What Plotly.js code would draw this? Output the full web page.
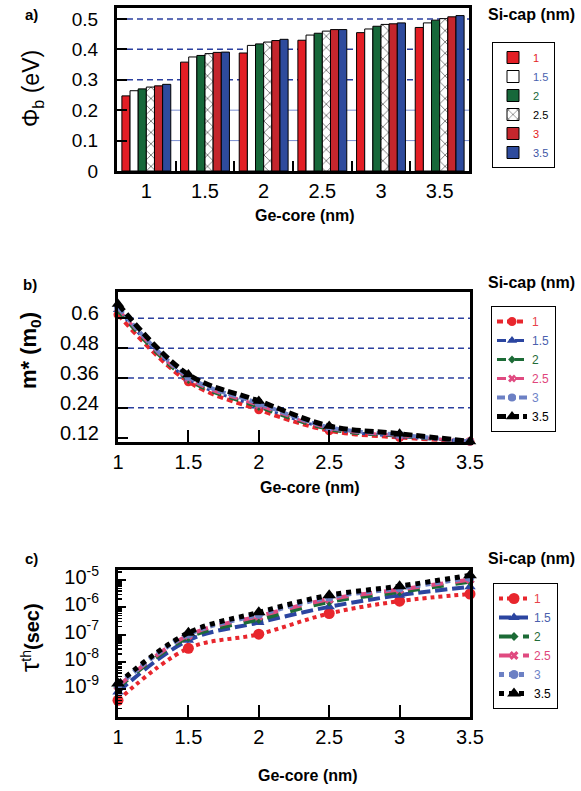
<!DOCTYPE html>
<html><head><meta charset="utf-8">
<script src="https://cdn.plot.ly/plotly-3.0.1.min.js"></script>
<style>html,body{margin:0;padding:0;background:#fff;} #chart{width:581px;height:791px;}</style>
</head><body><div id="chart"></div>
<script>
// ---------- data ----------
const geCore = [1, 1.5, 2, 2.5, 3, 3.5];
const geCoreLabels = ['1', '1.5', '2', '2.5', '3', '3.5'];
const siCap = ['1', '1.5', '2', '2.5', '3', '3.5'];

// a) barrier height Phi_b (eV) per Si-cap
const phiB_1  = [0.247, 0.358, 0.388, 0.430, 0.455, 0.472];
const phiB_15 = [0.264, 0.375, 0.413, 0.447, 0.467, 0.487];
const phiB_2  = [0.270, 0.380, 0.418, 0.453, 0.476, 0.496];
const phiB_25 = [0.276, 0.386, 0.424, 0.460, 0.482, 0.501];
const phiB_3  = [0.280, 0.390, 0.429, 0.465, 0.484, 0.507];
const phiB_35 = [0.285, 0.391, 0.433, 0.465, 0.487, 0.511];

// b) effective mass m* (m0) per Si-cap
const mEff_1  = [0.615, 0.345, 0.232, 0.148, 0.121, 0.105];
const mEff_15 = [0.635, 0.356, 0.246, 0.156, 0.125, 0.105];
const mEff_2  = [0.630, 0.352, 0.243, 0.153, 0.126, 0.105];
const mEff_25 = [0.640, 0.358, 0.250, 0.158, 0.128, 0.105];
const mEff_3  = [0.645, 0.365, 0.258, 0.162, 0.132, 0.105];
const mEff_35 = [0.658, 0.374, 0.268, 0.167, 0.136, 0.105];

// c) thermionic time tau_th (s) per Si-cap
const tau_1  = [4.0e-10, 3.2e-8, 1.05e-7, 6.0e-7, 1.7e-6, 3.1e-6];
const tau_15 = [8.0e-10, 6.3e-8, 2.8e-7, 1.05e-6, 2.8e-6, 5.7e-6];
const tau_2  = [1.15e-9, 8.0e-8, 3.6e-7, 1.6e-6, 3.7e-6, 8.7e-6];
const tau_25 = [1.3e-9, 9.5e-8, 4.8e-7, 2.0e-6, 4.5e-6, 1.05e-5];
const tau_3  = [1.45e-9, 1.05e-7, 5.6e-7, 2.4e-6, 5.2e-6, 1.25e-5];
const tau_35 = [1.66e-9, 1.18e-7, 6.6e-7, 2.8e-6, 6.0e-6, 1.5e-5];

const gridA_dashed = [0.3, 0.4, 0.5];
const gridA_solid = [0.1, 0.2];
const gridB = [0.24, 0.36, 0.48, 0.6];
const ticksA = [0, 0.1, 0.2, 0.3, 0.4, 0.5];
const ticksB = [0.12, 0.24, 0.36, 0.48, 0.6];
const ticksC = [1e-9, 1e-8, 1e-7, 1e-6, 1e-5];
const ticksCText = ['10<sup>-9</sup>', '10<sup>-8</sup>', '10<sup>-7</sup>', '10<sup>-6</sup>', '10<sup>-5</sup>'];

// ---------- styling ----------
const W = 581, H = 791;
const FONT = 'Liberation Sans, Arial, Helvetica, sans-serif';
const px = v => v / W;
const py = v => 1 - v / H;

const phiSeries = [phiB_1, phiB_15, phiB_2, phiB_25, phiB_3, phiB_35];
const mSeries = [mEff_1, mEff_15, mEff_2, mEff_25, mEff_3, mEff_35];
const tauSeries = [tau_1, tau_15, tau_2, tau_25, tau_3, tau_35];

const barFill = ['#e31e25', '#ffffff', '#17683a', '#ffffff', '#c4262d', '#2e4b9d'];
const labelColA = ['#e31e25', '#4a62ae', '#17683a', '#000000', '#e31e25', '#3d55a5'];
const lineCol = ['#e8262d', '#2b45a0', '#1c6b36', '#e04a80', '#6c80c4', '#000000'];
const labelColB = ['#e8424a', '#4b5fae', '#1f6b38', '#e0457b', '#6f84c8', '#000000'];
const symbols = ['circle', 'triangle-up', 'diamond', 'x', 'circle', 'triangle-up'];
const msizeB = [9, 9, 6, 7, 8, 11];
const dashB = ['6px,4px', 'dashdot', 'dash', 'dash', '8px,3px', '9px,4px'];
const widthB = [4, 3, 3, 3, 4, 5];
const dashC = ['dot', '12px,5px', 'dash', 'dash', 'dot', 'dot'];
const widthC = [4, 4, 4, 4, 5, 5];
const msizeC = [11, 10, 7, 8, 9, 12];

const traces = [];
siCap.forEach((s, i) => {
  const m = {color: barFill[i], line: {color: '#000', width: 1}};
  if (i === 3) m.pattern = {shape: 'x', fgcolor: '#000', bgcolor: '#fff', size: 8, solidity: 0.12};
  traces.push({
    type: 'bar', x: geCoreLabels, y: phiSeries[i], xaxis: 'x', yaxis: 'y',
    name: '<span style="color:' + labelColA[i] + '">' + s + '</span>',
    marker: m, legend: 'legend', hoverinfo: 'skip'
  });
});
siCap.forEach((s, i) => {
  traces.push({
    type: 'scatter', mode: 'lines+markers', x: geCore, y: mSeries[i], xaxis: 'x2', yaxis: 'y2',
    name: '<span style="color:' + labelColB[i] + '">' + s + '</span>',
    line: {color: lineCol[i], width: widthB[i], dash: dashB[i], shape: 'spline', smoothing: 1},
    marker: {symbol: symbols[i], size: msizeB[i], color: lineCol[i]},
    cliponaxis: false, legend: 'legend2'
  });
});
siCap.forEach((s, i) => {
  traces.push({
    type: 'scatter', mode: 'lines+markers', x: geCore, y: tauSeries[i], xaxis: 'x3', yaxis: 'y3',
    name: '<span style="color:' + labelColB[i] + '">' + s + '</span>',
    line: {color: lineCol[i], width: widthC[i], dash: dashC[i], shape: 'spline', smoothing: 1},
    marker: {symbol: symbols[i], size: msizeC[i], color: lineCol[i]},
    cliponaxis: false, legend: 'legend3'
  });
});

const shapes = [];
gridA_dashed.forEach(v => shapes.push({type: 'line', xref: 'x domain', yref: 'y', x0: 0, x1: 1, y0: v, y1: v,
  line: {color: '#2b3f9e', width: 1.5, dash: '6px,4px'}, layer: 'below'}));
gridA_solid.forEach(v => shapes.push({type: 'line', xref: 'x domain', yref: 'y', x0: 0, x1: 1, y0: v, y1: v,
  line: {color: '#7b8fd0', width: 1}, layer: 'below'}));
gridB.forEach(v => shapes.push({type: 'line', xref: 'x2 domain', yref: 'y2', x0: 0, x1: 1, y0: v, y1: v,
  line: {color: '#2b3f9e', width: 1.5, dash: '6px,4px'}, layer: 'below'}));

const axisBase = {
  showline: true, linecolor: '#000', linewidth: 3, mirror: true, showgrid: false, zeroline: false,
  ticks: 'inside', tickcolor: '#000', tickwidth: 2, ticklen: 10,
  tickfont: {family: FONT, size: 20, color: '#000'}
};

const legendBase = {
  xanchor: 'left', yanchor: 'top', bordercolor: '#000', borderwidth: 1, bgcolor: '#fff',
  font: {family: FONT, size: 12, color: '#000'}, itemwidth: 30, tracegroupgap: 0
};

const ann = (text, x, y, size, bold, extra) => Object.assign({
  text: bold ? '<b>' + text + '</b>' : text, xref: 'paper', yref: 'paper', x: px(x), y: py(y),
  xanchor: 'center', yanchor: 'middle', showarrow: false,
  font: {family: FONT, size: size, color: '#000'}
}, extra || {});

const layout = {
  width: W, height: H, margin: {l: 0, r: 0, t: 0, b: 0},
  paper_bgcolor: '#fff', plot_bgcolor: '#fff', showlegend: true,
  barmode: 'group', bargap: 0.167, bargroupgap: 0,
  font: {family: FONT, color: '#000'},
  xaxis: Object.assign({}, axisBase, {domain: [px(117), px(469)], anchor: 'y', type: 'category',
    tickson: 'boundaries', tickfont: {family: FONT, size: 20}}),
  yaxis: Object.assign({}, axisBase, {domain: [py(171), py(8)], anchor: 'x', range: [0, 0.536],
    tickvals: ticksA, ticktext: ticksA.map(String), tickfont: {family: FONT, size: 19}, ticklabelstandoff: 12}),
  xaxis2: Object.assign({}, axisBase, {domain: [px(118), px(470)], anchor: 'y2', range: [1, 3.5],
    tickvals: geCore, ticktext: geCoreLabels, ticklen: 12}),
  yaxis2: Object.assign({}, axisBase, {domain: [py(442), py(292)], anchor: 'x2', range: [0.1027, 0.706],
    tickvals: ticksB, ticktext: ticksB.map(String), ticklabelstandoff: 12, ticklabelshift: -5}),
  xaxis3: Object.assign({}, axisBase, {domain: [px(118), px(470)], anchor: 'y3', range: [1, 3.5],
    tickvals: geCore, ticktext: geCoreLabels, ticklen: 12}),
  yaxis3: Object.assign({}, axisBase, {domain: [py(717), py(570)], anchor: 'x3', type: 'log',
    range: [-10.01, -4.63], tickvals: ticksC, ticktext: ticksCText, ticklen: 8, ticklabelstandoff: 12,
    ticklabelshift: -3,
    minor: {ticks: 'inside', ticklen: 4, tickwidth: 1.5, tickcolor: '#000', dtick: 'D1'}}),
  legend: Object.assign({}, legendBase, {x: px(492), y: py(42), font: {family: FONT, size: 11}}),
  legend2: Object.assign({}, legendBase, {x: px(491), y: py(306)}),
  legend3: Object.assign({}, legendBase, {x: px(493), y: py(583)}),
  shapes: shapes,
  annotations: [
    ann('a)', 31, 15, 15, true),
    ann('b)', 30, 284, 15, true),
    ann('c)', 31, 558, 15, true),
    ann('Si-cap (nm)', 531, 14, 16, true),
    ann('Si-cap (nm)', 531, 283, 16, true),
    ann('Si-cap (nm)', 531, 558, 16, true),
    ann('Ge-core (nm)', 305, 215, 16, true),
    ann('Ge-core (nm)', 310, 487, 16, true),
    ann('Ge-core (nm)', 308, 775, 16, true),
    ann('Φ<sub>b</sub> (eV)', 33, 89, 23, false, {textangle: -90}),
    ann('m* (m<sub>0</sub>)', 30, 351, 22, true, {textangle: -90}),
    ann('<span style="font-size:26px">τ</span><sup>th</sup><b>(sec)</b>', 30, 638, 20, false, {textangle: -90})
  ]
};

Plotly.newPlot('chart', traces, layout, {staticPlot: true, displayModeBar: false});
</script></body></html>
